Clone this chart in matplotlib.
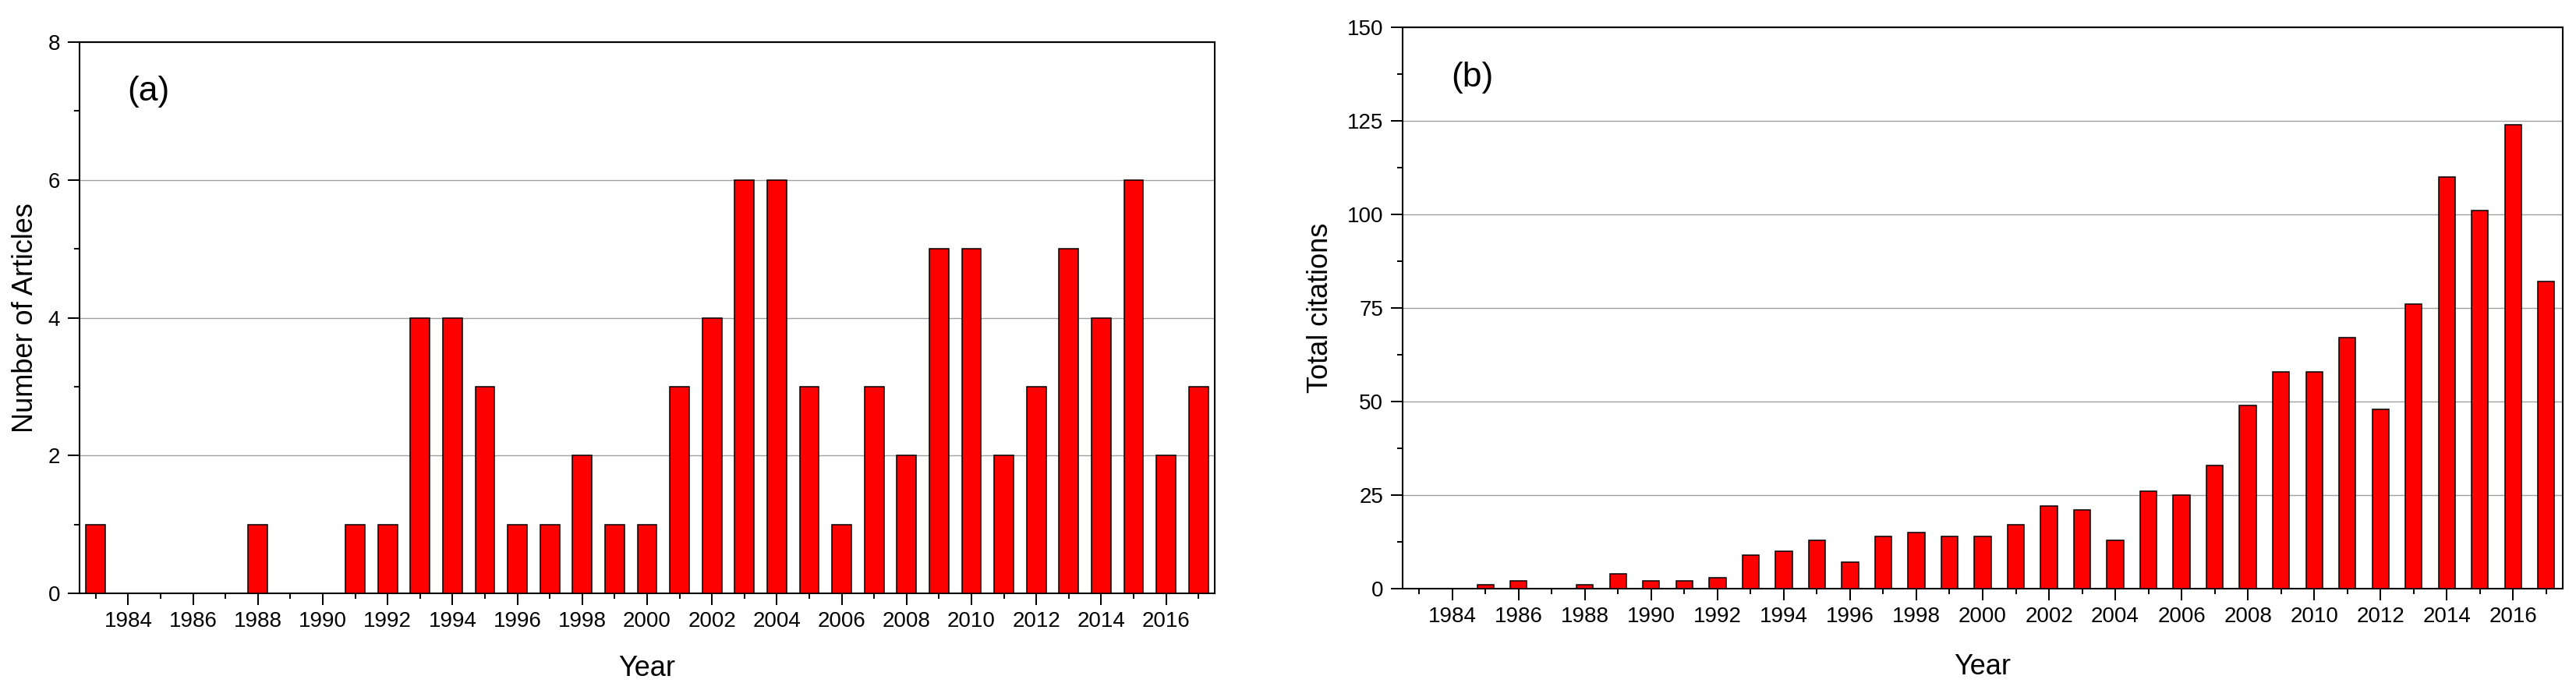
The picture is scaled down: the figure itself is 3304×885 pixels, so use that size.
import matplotlib
matplotlib.use("Agg")
import matplotlib.pyplot as plt
from matplotlib.ticker import MultipleLocator, FixedLocator

plt.rcParams['font.family'] = ['Liberation Sans', 'DejaVu Sans']

years = list(range(1983, 2018))
articles = [1, 0, 0, 0, 0, 1, 0, 0, 1, 1, 4, 4, 3, 1, 1, 2, 1, 1, 3, 4,
            6, 6, 3, 1, 3, 2, 5, 5, 2, 3, 5, 4, 6, 2, 3]
citations = [0, 0, 1, 2, 0, 1, 4, 2, 2, 3, 9, 10, 13, 7, 14, 15, 14, 14, 17, 22,
             21, 13, 26, 25, 33, 49, 58, 58, 67, 48, 76, 110, 101, 124, 82]
major_years = list(range(1984, 2017, 2))
minor_years = list(range(1983, 2018, 2))

W, H = 3304, 885
fig = plt.figure(figsize=(W / 100, H / 100), dpi=100)

def px_axes(l, t, r, b):
    return fig.add_axes([l / W, 1 - b / H, (r - l) / W, (b - t) / H])

ax1 = px_axes(102, 54, 1558, 761)
ax2 = px_axes(1799, 35, 3287, 755)

def style(ax, ymax, ymaj, ylabel, tag, ylab_x, xlab_y):
    ax.set_xlim(1982.5, 2017.5)
    ax.set_ylim(0, ymax)
    ax.xaxis.set_major_locator(FixedLocator(major_years))
    ax.xaxis.set_minor_locator(FixedLocator(minor_years))
    ax.set_xticklabels([str(y) for y in major_years])
    ax.yaxis.set_major_locator(MultipleLocator(ymaj))
    ax.yaxis.set_minor_locator(MultipleLocator(ymaj / 2))
    ax.tick_params(axis='both', which='major', direction='out', length=10.8,
                   width=1.45, labelsize=20, color='black')
    ax.tick_params(axis='both', which='minor', direction='out', length=5,
                   width=1.45, color='black')
    ax.tick_params(axis='x', which='major', pad=6)
    ax.tick_params(axis='y', which='major', pad=7)
    ax.tick_params(top=False, right=False, which='both')
    for s in ax.spines.values():
        s.set_linewidth(1.5)
        s.set_color('black')
    ax.set_axisbelow(True)
    ax.yaxis.grid(True, which='major', color='#a0a0a0', linewidth=1.0)
    ax.set_ylabel(ylabel, fontsize=26, va='center')
    ax.yaxis.set_label_coords(ylab_x, 0.5)
    ax.set_xlabel('Year', fontsize=26, va='baseline')
    ax.xaxis.set_label_coords(0.5, xlab_y)
    ax.text(0.042, 0.91, tag, transform=ax.transAxes, fontsize=32,
            ha='left', va='center')

ax1.bar(years, articles, width=0.6, color='#ff0000', edgecolor='black',
        linewidth=1.1, zorder=3)
ax2.bar(years, citations, width=0.5, color='#ff0000', edgecolor='black',
        linewidth=1.1, zorder=3)

style(ax1, 8, 2, 'Number of Articles', '(a)', -0.048, -0.150)
style(ax2, 150, 25, 'Total citations', '(b)', -0.071, -0.153)

fig.savefig('out.png', dpi=100, facecolor='white')
